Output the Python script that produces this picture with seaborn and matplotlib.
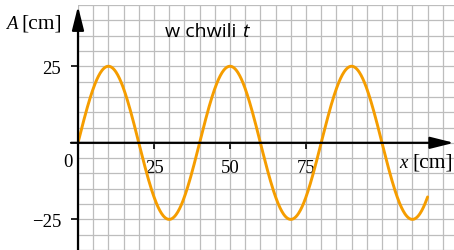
import numpy as np
import pandas as pd
import seaborn as sns
import matplotlib.pyplot as plt

# Wave: amplitude 25 cm, wavelength 40 cm, drawn up to x = 115 cm
amplitude = 25
wavelength = 40
x_start, x_end = 0, 115

x_ticks = [25, 50, 75]
y_ticks = [-25, 25]
y_tick_labels = ["\u221225", "25"]

x = np.linspace(x_start, x_end, 600)
df = pd.DataFrame({"x": x, "A": amplitude * np.sin(2 * np.pi * x / wavelength)})

sns.set_style("white")
plt.rcParams["font.family"] = ["Liberation Serif", "DejaVu Serif"]
plt.rcParams["text.color"] = "black"
plt.rcParams["xtick.color"] = "black"
plt.rcParams["ytick.color"] = "black"

W, H = 454, 251
fig = plt.figure(figsize=(W / 100, H / 100), dpi=100)
ax = fig.add_axes([78 / W, 0, 376 / W, 245 / H])

sns.lineplot(data=df, x="x", y="A", ax=ax, color="#f59d00", lw=2.1, sort=False)

ax.set_xlim(0, 376 / 3.04)
ax.set_ylim(-106 / 3.05, 45)
ax.set_xlabel("")
ax.set_ylabel("")

# grid every 5 cm
ax.set_xticks(np.arange(0, 125, 5), minor=True)
ax.set_yticks(np.arange(-35, 46, 5), minor=True)
ax.set_xticks(x_ticks)
ax.set_yticks(y_ticks)
ax.set_yticklabels(y_tick_labels)
ax.grid(which="both", color="#bdbdbd", lw=0.9)
ax.set_axisbelow(True)

for s in ax.spines.values():
    s.set_visible(False)
ax.spines["left"].set_position(("data", 0))
ax.spines["bottom"].set_position(("data", 0))
ax.tick_params(which="minor", length=0)
ax.tick_params(axis="x", which="major", direction="out", length=4, width=1.2,
               pad=7.5, labelsize=13.5, bottom=True, labelcolor="black")
ax.tick_params(axis="y", which="major", direction="out", length=5, width=1.2,
               pad=7, labelsize=13.5, left=True, labelcolor="black")

# axes with arrows
arrow = dict(arrowstyle="-|>,head_length=1.6,head_width=0.4",
             color="black", lw=1.6, mutation_scale=9, shrinkA=0, shrinkB=0)
ax.annotate("", xy=(376 / 3.04, 0), xytext=(-2.3, 0), annotation_clip=False,
            arrowprops=arrow)
ax.annotate("", xy=(0, 44.6), xytext=(0, -36), annotation_clip=False,
            arrowprops=arrow)


def px(xp, yp):
    return xp / W, 1 - yp / H


fs = 13.5
fig.text(*px(68, 167), "0", fontsize=fs, ha="center", va="baseline")
fig.text(*px(6, 29), "A", fontsize=fs, style="italic", va="baseline")
fig.text(*px(21, 29), "[cm]", fontsize=15.5, va="baseline")
fig.text(*px(399, 168), "x", fontsize=fs, style="italic", va="baseline")
fig.text(*px(412, 168), "[cm]", fontsize=15.5, va="baseline")
fig.text(*px(165, 37), "w chwili", fontsize=14, family="Open Sans", va="baseline")
fig.text(*px(242, 37), "t", fontsize=14, family="Open Sans", style="italic",
         va="baseline")

fig.savefig("out.png", dpi=100)
